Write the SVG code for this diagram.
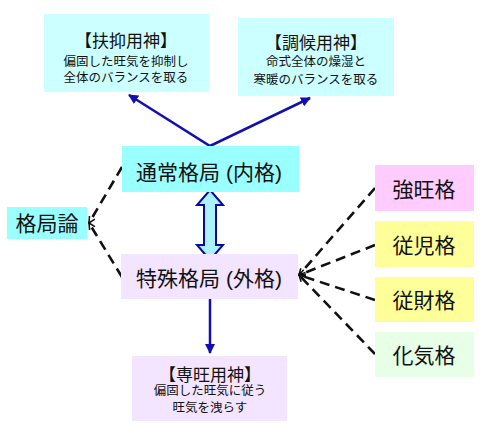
<svg xmlns="http://www.w3.org/2000/svg" width="491" height="435" viewBox="0 0 491 435">
<defs>
<style>
.t{font-family:"Liberation Sans","Noto Sans CJK JP",sans-serif;fill:#111;text-anchor:middle;dominant-baseline:central}
.big{font-size:21px}
.ttl{font-size:17px}
.sm{font-size:12.5px}
.dash{stroke:#111;stroke-width:2.6;stroke-dasharray:10 6;fill:none}
.blue{stroke:#1010b0;stroke-width:2.5;fill:none}
</style>
<marker id="ah" viewBox="0 0 10 10" refX="9" refY="5" markerWidth="4" markerHeight="4" orient="auto-start-reverse">
<path d="M0,0 L10,5 L0,10 z" fill="#1010b0"/>
</marker>
<marker id="sm" viewBox="0 0 10 10" refX="9" refY="5" markerWidth="3" markerHeight="3" orient="auto-start-reverse">
<path d="M1,1 L9,5 L1,9" fill="none" stroke="#111" stroke-width="2"/>
</marker>
</defs>
<rect width="491" height="435" fill="#fff"/>
<g id="connectors">
<polyline class="blue" points="129,95 210,146 310,98" marker-start="url(#ah)" marker-end="url(#ah)"/>
<line class="blue" x1="210" y1="299" x2="210" y2="353" marker-end="url(#ah)"/>
<path d="M210,190 L223,205 L216,205 L216,245 L223,245 L210,260 L197,245 L204,245 L204,205 L197,205 Z" fill="#aaf0ff" stroke="#0a0a99" stroke-width="2" stroke-linejoin="miter"/>
<line class="dash" x1="122" y1="167" x2="89" y2="223" marker-end="url(#sm)"/>
<line class="dash" x1="122" y1="277" x2="89" y2="223" marker-end="url(#sm)"/>
<line class="dash" x1="375" y1="188" x2="299" y2="275" marker-end="url(#sm)"/>
<line class="dash" x1="375" y1="245" x2="299" y2="275" marker-end="url(#sm)"/>
<line class="dash" x1="375" y1="300" x2="299" y2="275" marker-end="url(#sm)"/>
<line class="dash" x1="375" y1="354" x2="299" y2="275" marker-end="url(#sm)"/>
</g>
<g id="fuyoku">
<rect x="44" y="14" width="165" height="78" fill="#ccffff"/>
<text class="t ttl" x="126" y="41">【扶抑用神】</text>
<text class="t sm" x="126" y="62">偏固した旺気を抑制し</text>
<text class="t sm" x="126" y="78">全体のバランスを取る</text>
</g>
<g id="chouko">
<rect x="238" y="18" width="156" height="78" fill="#ccffff"/>
<text class="t ttl" x="316" y="43">【調候用神】</text>
<text class="t sm" x="316" y="62">命式全体の燥湿と</text>
<text class="t sm" x="316" y="80">寒暖のバランスを取る</text>
</g>
<g id="tsujo">
<rect x="122" y="146" width="177" height="46" fill="#99ffff"/>
<text class="t big" x="209" y="172">通常格局 (内格)</text>
</g>
<g id="kakkyokuron">
<rect x="7" y="207" width="80" height="32" fill="#99ffff"/>
<text class="t big" x="47" y="223">格局論</text>
</g>
<g id="tokushu">
<rect x="121" y="254" width="177" height="45" fill="#f3e4ff"/>
<text class="t big" x="209" y="278">特殊格局 (外格)</text>
</g>
<g id="kyouou">
<rect x="375" y="165" width="99" height="46" fill="#ffccff"/>
<text class="t big" x="424" y="189">強旺格</text>
</g>
<g id="jyuji">
<rect x="375" y="221" width="99" height="46" fill="#ffff99"/>
<text class="t big" x="424" y="245">従児格</text>
</g>
<g id="jyuzai">
<rect x="375" y="277" width="99" height="45" fill="#ffff99"/>
<text class="t big" x="424" y="300">従財格</text>
</g>
<g id="kaki">
<rect x="375" y="332" width="99" height="45" fill="#e6ffe6"/>
<text class="t big" x="424" y="355">化気格</text>
</g>
<g id="senou">
<rect x="132" y="356" width="155" height="65" fill="#f3e4ff"/>
<text class="t ttl" x="210" y="375">【専旺用神】</text>
<text class="t sm" x="210" y="391">偏固した旺気に従う</text>
<text class="t sm" x="210" y="408">旺気を洩らす</text>
</g>
</svg>
